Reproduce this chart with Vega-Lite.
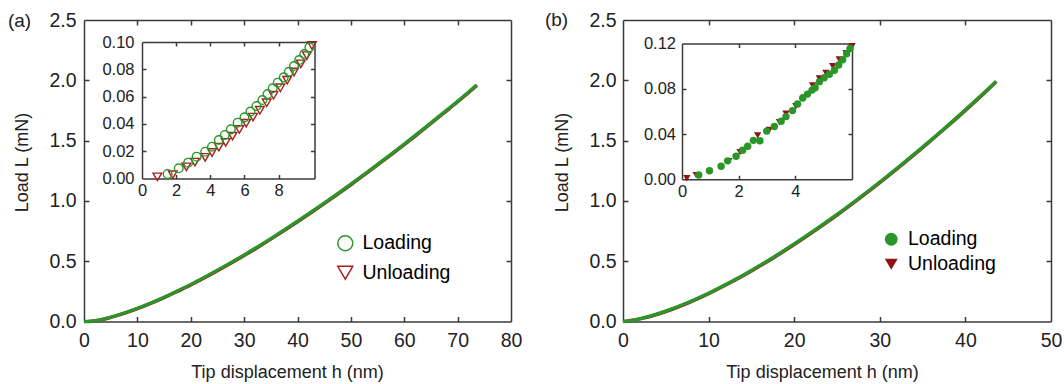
{
  "$schema": "https://vega.github.io/schema/vega-lite/v6.json",
  "width": 1064,
  "height": 384,
  "autosize": {"type": "none"},
  "padding": 0,
  "background": "white",
  "datasets": {
    "mainA": [
      {"h": 0, "L": 0, "phase": "Loading"}, {"h": 1, "L": 0, "phase": "Loading"}, {"h": 2.5, "L": 0.009, "phase": "Loading"}, {"h": 5, "L": 0.036, "phase": "Loading"}, {"h": 7.5, "L": 0.070, "phase": "Loading"}, {"h": 10, "L": 0.110, "phase": "Loading"}, {"h": 12.5, "L": 0.154, "phase": "Loading"}, {"h": 15, "L": 0.202, "phase": "Loading"}, {"h": 17.5, "L": 0.254, "phase": "Loading"}, {"h": 20, "L": 0.308, "phase": "Loading"}, {"h": 22.5, "L": 0.366, "phase": "Loading"}, {"h": 25, "L": 0.426, "phase": "Loading"}, {"h": 27.5, "L": 0.488, "phase": "Loading"}, {"h": 30, "L": 0.552, "phase": "Loading"}, {"h": 32.5, "L": 0.619, "phase": "Loading"}, {"h": 35, "L": 0.688, "phase": "Loading"}, {"h": 37.5, "L": 0.759, "phase": "Loading"}, {"h": 40, "L": 0.832, "phase": "Loading"}, {"h": 42.5, "L": 0.906, "phase": "Loading"}, {"h": 45, "L": 0.982, "phase": "Loading"}, {"h": 47.5, "L": 1.060, "phase": "Loading"}, {"h": 50, "L": 1.139, "phase": "Loading"}, {"h": 52.5, "L": 1.221, "phase": "Loading"}, {"h": 55, "L": 1.303, "phase": "Loading"}, {"h": 57.5, "L": 1.387, "phase": "Loading"}, {"h": 60, "L": 1.472, "phase": "Loading"}, {"h": 62.5, "L": 1.559, "phase": "Loading"}, {"h": 65, "L": 1.647, "phase": "Loading"}, {"h": 67.5, "L": 1.737, "phase": "Loading"}, {"h": 70, "L": 1.827, "phase": "Loading"}, {"h": 72.5, "L": 1.919, "phase": "Loading"}, {"h": 73.6, "L": 1.96, "phase": "Loading"},
      {"h": 0.9, "L": 0, "phase": "Unloading"}, {"h": 2.5, "L": 0.008, "phase": "Unloading"}, {"h": 5, "L": 0.034, "phase": "Unloading"}, {"h": 7.5, "L": 0.067, "phase": "Unloading"}, {"h": 10, "L": 0.106, "phase": "Unloading"}, {"h": 12.5, "L": 0.150, "phase": "Unloading"}, {"h": 15, "L": 0.198, "phase": "Unloading"}, {"h": 17.5, "L": 0.250, "phase": "Unloading"}, {"h": 20, "L": 0.303, "phase": "Unloading"}, {"h": 22.5, "L": 0.361, "phase": "Unloading"}, {"h": 25, "L": 0.421, "phase": "Unloading"}, {"h": 27.5, "L": 0.483, "phase": "Unloading"}, {"h": 30, "L": 0.547, "phase": "Unloading"}, {"h": 32.5, "L": 0.614, "phase": "Unloading"}, {"h": 35, "L": 0.683, "phase": "Unloading"}, {"h": 37.5, "L": 0.754, "phase": "Unloading"}, {"h": 40, "L": 0.827, "phase": "Unloading"}, {"h": 42.5, "L": 0.901, "phase": "Unloading"}, {"h": 45, "L": 0.977, "phase": "Unloading"}, {"h": 47.5, "L": 1.055, "phase": "Unloading"}, {"h": 50, "L": 1.134, "phase": "Unloading"}, {"h": 52.5, "L": 1.216, "phase": "Unloading"}, {"h": 55, "L": 1.298, "phase": "Unloading"}, {"h": 57.5, "L": 1.382, "phase": "Unloading"}, {"h": 60, "L": 1.467, "phase": "Unloading"}, {"h": 62.5, "L": 1.554, "phase": "Unloading"}, {"h": 65, "L": 1.642, "phase": "Unloading"}, {"h": 67.5, "L": 1.732, "phase": "Unloading"}, {"h": 70, "L": 1.822, "phase": "Unloading"}, {"h": 72.5, "L": 1.915, "phase": "Unloading"}, {"h": 73.6, "L": 1.96, "phase": "Unloading"}
    ],
    "insetA": [
      {"h": 1.5, "L": 0.0033, "phase": "Loading"}, {"h": 2.15, "L": 0.0075, "phase": "Loading"}, {"h": 2.7, "L": 0.0116, "phase": "Loading"}, {"h": 3.2, "L": 0.016, "phase": "Loading"}, {"h": 3.7, "L": 0.0196, "phase": "Loading"}, {"h": 4.1, "L": 0.0233, "phase": "Loading"}, {"h": 4.5, "L": 0.0282, "phase": "Loading"}, {"h": 4.85, "L": 0.0319, "phase": "Loading"}, {"h": 5.2, "L": 0.036, "phase": "Loading"}, {"h": 5.6, "L": 0.0409, "phase": "Loading"}, {"h": 6.0, "L": 0.0448, "phase": "Loading"}, {"h": 6.35, "L": 0.049, "phase": "Loading"}, {"h": 6.7, "L": 0.0531, "phase": "Loading"}, {"h": 7.05, "L": 0.0575, "phase": "Loading"}, {"h": 7.35, "L": 0.0619, "phase": "Loading"}, {"h": 7.65, "L": 0.0661, "phase": "Loading"}, {"h": 7.95, "L": 0.0702, "phase": "Loading"}, {"h": 8.3, "L": 0.0741, "phase": "Loading"}, {"h": 8.6, "L": 0.0782, "phase": "Loading"}, {"h": 8.9, "L": 0.0824, "phase": "Loading"}, {"h": 9.2, "L": 0.0868, "phase": "Loading"}, {"h": 9.5, "L": 0.0912, "phase": "Loading"}, {"h": 9.8, "L": 0.0961, "phase": "Loading"},
      {"h": 0.9, "L": 0.0012, "phase": "Unloading"}, {"h": 1.8, "L": 0.0028, "phase": "Unloading"}, {"h": 2.6, "L": 0.0085, "phase": "Unloading"}, {"h": 3.1, "L": 0.012, "phase": "Unloading"}, {"h": 3.7, "L": 0.0155, "phase": "Unloading"}, {"h": 4.1, "L": 0.019, "phase": "Unloading"}, {"h": 4.5, "L": 0.023, "phase": "Unloading"}, {"h": 4.9, "L": 0.0265, "phase": "Unloading"}, {"h": 5.3, "L": 0.031, "phase": "Unloading"}, {"h": 5.7, "L": 0.036, "phase": "Unloading"}, {"h": 6.1, "L": 0.0405, "phase": "Unloading"}, {"h": 6.5, "L": 0.045, "phase": "Unloading"}, {"h": 6.9, "L": 0.05, "phase": "Unloading"}, {"h": 7.3, "L": 0.0555, "phase": "Unloading"}, {"h": 7.7, "L": 0.061, "phase": "Unloading"}, {"h": 8.1, "L": 0.0665, "phase": "Unloading"}, {"h": 8.5, "L": 0.072, "phase": "Unloading"}, {"h": 8.9, "L": 0.078, "phase": "Unloading"}, {"h": 9.3, "L": 0.084, "phase": "Unloading"}, {"h": 9.65, "L": 0.09, "phase": "Unloading"}, {"h": 9.95, "L": 0.0975, "phase": "Unloading"}
    ],
    "mainB": [
      {"h": 0, "L": 0, "phase": "Loading"}, {"h": 1, "L": 0.008, "phase": "Loading"}, {"h": 2.5, "L": 0.032, "phase": "Loading"}, {"h": 5, "L": 0.086, "phase": "Loading"}, {"h": 7.5, "L": 0.155, "phase": "Loading"}, {"h": 10, "L": 0.235, "phase": "Loading"}, {"h": 12.5, "L": 0.325, "phase": "Loading"}, {"h": 15, "L": 0.424, "phase": "Loading"}, {"h": 17.5, "L": 0.530, "phase": "Loading"}, {"h": 20, "L": 0.643, "phase": "Loading"}, {"h": 22.5, "L": 0.763, "phase": "Loading"}, {"h": 25, "L": 0.888, "phase": "Loading"}, {"h": 27.5, "L": 1.020, "phase": "Loading"}, {"h": 30, "L": 1.157, "phase": "Loading"}, {"h": 32.5, "L": 1.300, "phase": "Loading"}, {"h": 35, "L": 1.447, "phase": "Loading"}, {"h": 37.5, "L": 1.599, "phase": "Loading"}, {"h": 40, "L": 1.756, "phase": "Loading"}, {"h": 42.5, "L": 1.918, "phase": "Loading"}, {"h": 43.6, "L": 1.99, "phase": "Loading"},
      {"h": 0.2, "L": 0, "phase": "Unloading"}, {"h": 2.5, "L": 0.030, "phase": "Unloading"}, {"h": 5, "L": 0.083, "phase": "Unloading"}, {"h": 7.5, "L": 0.151, "phase": "Unloading"}, {"h": 10, "L": 0.231, "phase": "Unloading"}, {"h": 12.5, "L": 0.321, "phase": "Unloading"}, {"h": 15, "L": 0.419, "phase": "Unloading"}, {"h": 17.5, "L": 0.525, "phase": "Unloading"}, {"h": 20, "L": 0.638, "phase": "Unloading"}, {"h": 22.5, "L": 0.758, "phase": "Unloading"}, {"h": 25, "L": 0.883, "phase": "Unloading"}, {"h": 27.5, "L": 1.015, "phase": "Unloading"}, {"h": 30, "L": 1.152, "phase": "Unloading"}, {"h": 32.5, "L": 1.295, "phase": "Unloading"}, {"h": 35, "L": 1.442, "phase": "Unloading"}, {"h": 37.5, "L": 1.594, "phase": "Unloading"}, {"h": 40, "L": 1.751, "phase": "Unloading"}, {"h": 42.5, "L": 1.913, "phase": "Unloading"}, {"h": 43.6, "L": 1.99, "phase": "Unloading"}
    ],
    "insetB": [
      {"h": 0.59, "L": 0.0038, "phase": "Loading"}, {"h": 0.97, "L": 0.0075, "phase": "Loading"}, {"h": 1.38, "L": 0.0116, "phase": "Loading"}, {"h": 1.61, "L": 0.0163, "phase": "Loading"}, {"h": 1.91, "L": 0.0204, "phase": "Loading"}, {"h": 2.14, "L": 0.0257, "phase": "Loading"}, {"h": 2.32, "L": 0.0292, "phase": "Loading"}, {"h": 2.52, "L": 0.0344, "phase": "Loading"}, {"h": 2.75, "L": 0.034, "phase": "Loading"}, {"h": 2.99, "L": 0.0426, "phase": "Loading"}, {"h": 3.26, "L": 0.0467, "phase": "Loading"}, {"h": 3.5, "L": 0.0513, "phase": "Loading"}, {"h": 3.67, "L": 0.0554, "phase": "Loading"}, {"h": 3.9, "L": 0.0607, "phase": "Loading"}, {"h": 4.08, "L": 0.0665, "phase": "Loading"}, {"h": 4.26, "L": 0.0718, "phase": "Loading"}, {"h": 4.43, "L": 0.0753, "phase": "Loading"}, {"h": 4.59, "L": 0.0788, "phase": "Loading"}, {"h": 4.7, "L": 0.081, "phase": "Loading"}, {"h": 4.85, "L": 0.0863, "phase": "Loading"}, {"h": 5.02, "L": 0.0898, "phase": "Loading"}, {"h": 5.2, "L": 0.0928, "phase": "Loading"}, {"h": 5.38, "L": 0.0963, "phase": "Loading"}, {"h": 5.53, "L": 0.101, "phase": "Loading"}, {"h": 5.67, "L": 0.1056, "phase": "Loading"}, {"h": 5.81, "L": 0.1109, "phase": "Loading"}, {"h": 5.93, "L": 0.1156, "phase": "Loading"},
      {"h": 0.17, "L": 0.001, "phase": "Unloading"}, {"h": 0.5, "L": 0.0037, "phase": "Unloading"}, {"h": 1.65, "L": 0.016, "phase": "Unloading"}, {"h": 2.05, "L": 0.024, "phase": "Unloading"}, {"h": 2.67, "L": 0.0388, "phase": "Unloading"}, {"h": 3.08, "L": 0.0435, "phase": "Unloading"}, {"h": 3.44, "L": 0.0505, "phase": "Unloading"}, {"h": 3.67, "L": 0.058, "phase": "Unloading"}, {"h": 4.02, "L": 0.0645, "phase": "Unloading"}, {"h": 4.32, "L": 0.072, "phase": "Unloading"}, {"h": 4.61, "L": 0.083, "phase": "Unloading"}, {"h": 4.85, "L": 0.089, "phase": "Unloading"}, {"h": 5.08, "L": 0.094, "phase": "Unloading"}, {"h": 5.32, "L": 0.1, "phase": "Unloading"}, {"h": 5.55, "L": 0.106, "phase": "Unloading"}, {"h": 5.79, "L": 0.1115, "phase": "Unloading"}, {"h": 6.0, "L": 0.1175, "phase": "Unloading"}
    ]
  },
  "layer": [
    {
      "layer": [
        {
          "data": {"name": "mainA"},
          "transform": [{"filter": "datum.phase === 'Unloading'"}],
          "mark": {"type": "line", "color": "#a3201f", "strokeWidth": 3.5, "interpolate": "monotone"},
          "encoding": {
            "x": {"field": "h", "type": "quantitative", "scale": {"domain": [0, 80], "nice": false, "zero": false, "range": [84, 511]}, "axis": {"orient": "bottom", "offset": -62.5, "values": [0, 10, 20, 30, 40, 50, 60, 70, 80], "labelPadding": 10, "title": "Tip displacement h (nm)", "titleX": 287, "titleY": 50.5, "titleBaseline": "middle"}},
            "y": {"field": "L", "type": "quantitative", "scale": {"domain": [0, 2.5], "nice": false, "zero": false, "range": [321.5, 20]}, "axis": {"orient": "left", "offset": -84, "values": [0, 0.5, 1, 1.5, 2, 2.5], "format": ".1f", "labelPadding": 8, "title": "Load L (mN)", "titleX": -62, "titleY": 162, "titleBaseline": "middle"}}
          }
        },
        {
          "data": {"name": "mainA"},
          "transform": [{"filter": "datum.phase === 'Loading'"}],
          "mark": {"type": "line", "color": "#2a962a", "strokeWidth": 3.3, "interpolate": "monotone"},
          "encoding": {
            "x": {"field": "h", "type": "quantitative", "scale": {"domain": [0, 80], "nice": false, "zero": false, "range": [84, 511]}, "axis": {"orient": "top", "offset": -20, "values": [0, 10, 20, 30, 40, 50, 60, 70, 80], "labels": false, "title": "(a)", "titleX": 19, "titleY": 0, "titleAngle": 0, "titleAlign": "center", "titleBaseline": "middle", "titleFontSize": 19}},
            "y": {"field": "L", "type": "quantitative", "scale": {"domain": [0, 2.5], "nice": false, "zero": false, "range": [321.5, 20]}, "axis": {"orient": "right", "offset": -553, "values": [0, 0.5, 1, 1.5, 2, 2.5], "labels": false, "title": null}}
          }
        },
        {
          "mark": {"type": "text", "text": "SiO₂", "fontSize": 18, "color": "#222"},
          "encoding": {
            "x": {"datum": 68.9, "type": "quantitative", "scale": {"domain": [0, 80], "nice": false, "zero": false, "range": [84, 511]}, "axis": {"orient": "bottom", "offset": -67.5, "values": [10, 20, 30, 40, 50, 60, 70], "domain": false, "ticks": true, "tickSize": 5, "labels": false, "title": null}},
            "y": {"datum": 2.326, "type": "quantitative", "scale": {"domain": [0, 2.5], "nice": false, "zero": false, "range": [321.5, 20]}, "axis": {"orient": "left", "offset": -89, "values": [0.5, 1, 1.5, 2], "domain": false, "ticks": true, "tickSize": 5, "labels": false, "title": null}}
          }
        },
        {
          "data": {"name": "mainA"},
          "transform": [{"filter": "datum.phase === 'Loading'"}],
          "mark": {"type": "line", "strokeOpacity": 0},
          "encoding": {
            "x": {"field": "h", "type": "quantitative", "scale": {"domain": [0, 80], "nice": false, "zero": false, "range": [84, 511]}, "axis": {"orient": "top", "offset": -25, "values": [10, 20, 30, 40, 50, 60, 70], "domain": false, "ticks": true, "tickSize": 5, "labels": false, "title": null}},
            "y": {"field": "L", "type": "quantitative", "scale": {"domain": [0, 2.5], "nice": false, "zero": false, "range": [321.5, 20]}, "axis": {"orient": "right", "offset": -558, "values": [0.5, 1, 1.5, 2], "domain": false, "ticks": true, "tickSize": 5, "labels": false, "title": null}}
          }
        }
      ],
      "resolve": {"axis": {"x": "independent", "y": "independent"}}
    },
    {
      "layer": [
        {
          "data": {"name": "insetA"},
          "transform": [{"filter": "datum.phase === 'Unloading'"}],
          "mark": {"type": "point", "filled": false, "size": 75, "strokeWidth": 1.4, "opacity": 1},
          "encoding": {
            "x": {"field": "h", "type": "quantitative", "scale": {"domain": [0, 10.1], "nice": false, "zero": false, "range": [142, 314.5]}, "axis": {"orient": "bottom", "offset": -205.5, "values": [0, 2, 4, 6, 8], "format": "d", "labelFontSize": 16.5, "labelPadding": 4, "title": null}},
            "y": {"field": "L", "type": "quantitative", "scale": {"domain": [0, 0.1], "nice": false, "zero": false, "range": [178.5, 42]}, "axis": {"orient": "left", "offset": -142, "values": [0, 0.02, 0.04, 0.06, 0.08, 0.1], "format": ".2f", "labelFontSize": 16.5, "labelPadding": 8, "title": null}},
            "color": {"field": "phase", "type": "nominal", "scale": {"domain": ["Loading", "Unloading"], "range": ["#2a962a", "#a3201f"]}, "legend": {"orient": "none", "legendX": 335.5, "legendY": 233.5, "title": null, "symbolSize": 225, "symbolStrokeWidth": 1.5, "labelFontSize": 19.5, "labelOffset": 7.5, "rowPadding": 7.5, "padding": 0, "encode": {"labels": {"fill": {"condition": {"test": "datum.value === 'Loading'", "value": "#2a962a"}, "value": "#a3201f"}}}}},
            "shape": {"field": "phase", "type": "nominal", "scale": {"domain": ["Loading", "Unloading"], "range": ["circle", "triangle-down"]}, "legend": {"orient": "none", "legendX": 335.5, "legendY": 233.5, "title": null, "symbolSize": 225, "symbolStrokeWidth": 1.5, "labelFontSize": 19.5, "labelOffset": 7.5, "rowPadding": 7.5, "padding": 0, "encode": {"labels": {"fill": {"condition": {"test": "datum.value === 'Loading'", "value": "#2a962a"}, "value": "#a3201f"}}}}}
          }
        },
        {
          "data": {"name": "insetA"},
          "transform": [{"filter": "datum.phase === 'Loading'"}],
          "mark": {"type": "point", "filled": false, "size": 75, "strokeWidth": 1.4, "opacity": 1},
          "encoding": {
            "x": {"field": "h", "type": "quantitative", "scale": {"domain": [0, 10.1], "nice": false, "zero": false, "range": [142, 314.5]}, "axis": {"orient": "top", "offset": -42, "values": [0, 2, 4, 6, 8], "labels": false, "title": null}},
            "y": {"field": "L", "type": "quantitative", "scale": {"domain": [0, 0.1], "nice": false, "zero": false, "range": [178.5, 42]}, "axis": {"orient": "right", "offset": -749.5, "values": [0, 0.02, 0.04, 0.06, 0.08, 0.1], "labels": false, "title": null}},
            "color": {"field": "phase", "type": "nominal", "scale": {"domain": ["Loading", "Unloading"], "range": ["#2a962a", "#a3201f"]}, "legend": {"orient": "none", "legendX": 335.5, "legendY": 233.5, "title": null, "symbolSize": 225, "symbolStrokeWidth": 1.5, "labelFontSize": 19.5, "labelOffset": 7.5, "rowPadding": 7.5, "padding": 0, "encode": {"labels": {"fill": {"condition": {"test": "datum.value === 'Loading'", "value": "#2a962a"}, "value": "#a3201f"}}}}},
            "shape": {"field": "phase", "type": "nominal", "scale": {"domain": ["Loading", "Unloading"], "range": ["circle", "triangle-down"]}, "legend": {"orient": "none", "legendX": 335.5, "legendY": 233.5, "title": null, "symbolSize": 225, "symbolStrokeWidth": 1.5, "labelFontSize": 19.5, "labelOffset": 7.5, "rowPadding": 7.5, "padding": 0, "encode": {"labels": {"fill": {"condition": {"test": "datum.value === 'Loading'", "value": "#2a962a"}, "value": "#a3201f"}}}}}
          }
        },
        {
          "data": {"name": "insetA"},
          "mark": {"type": "point", "opacity": 0},
          "encoding": {
            "x": {"field": "h", "type": "quantitative", "scale": {"domain": [0, 10.1], "nice": false, "zero": false, "range": [142, 314.5]}, "axis": {"orient": "bottom", "offset": -209.5, "values": [2, 4, 6, 8], "domain": false, "ticks": true, "tickSize": 4, "labels": false, "title": null}},
            "y": {"field": "L", "type": "quantitative", "scale": {"domain": [0, 0.1], "nice": false, "zero": false, "range": [178.5, 42]}, "axis": {"orient": "left", "offset": -146, "values": [0.02, 0.04, 0.06, 0.08], "domain": false, "ticks": true, "tickSize": 4, "labels": false, "title": null}}
          }
        },
        {
          "data": {"name": "insetA"},
          "mark": {"type": "point", "opacity": 0},
          "encoding": {
            "x": {"field": "h", "type": "quantitative", "scale": {"domain": [0, 10.1], "nice": false, "zero": false, "range": [142, 314.5]}, "axis": {"orient": "top", "offset": -46, "values": [2, 4, 6, 8], "domain": false, "ticks": true, "tickSize": 4, "labels": false, "title": null}},
            "y": {"field": "L", "type": "quantitative", "scale": {"domain": [0, 0.1], "nice": false, "zero": false, "range": [178.5, 42]}, "axis": {"orient": "right", "offset": -753.5, "values": [0.02, 0.04, 0.06, 0.08], "domain": false, "ticks": true, "tickSize": 4, "labels": false, "title": null}}
          }
        }
      ],
      "resolve": {"axis": {"x": "independent", "y": "independent"}}
    },
    {
      "layer": [
        {
          "data": {"name": "mainB"},
          "transform": [{"filter": "datum.phase === 'Unloading'"}],
          "mark": {"type": "line", "color": "#a3201f", "strokeWidth": 3.5, "interpolate": "monotone"},
          "encoding": {
            "x": {"field": "h", "type": "quantitative", "scale": {"domain": [0, 50], "nice": false, "zero": false, "range": [623, 1051]}, "axis": {"orient": "bottom", "offset": -62.5, "values": [0, 10, 20, 30, 40, 50], "labelPadding": 10, "title": "Tip displacement h (nm)", "titleX": 822, "titleY": 50.5, "titleBaseline": "middle"}},
            "y": {"field": "L", "type": "quantitative", "scale": {"domain": [0, 2.5], "nice": false, "zero": false, "range": [321.5, 20]}, "axis": {"orient": "left", "offset": -623, "values": [0, 0.5, 1, 1.5, 2, 2.5], "format": ".1f", "labelPadding": 7, "title": "Load L (mN)", "titleX": -61, "titleY": 162, "titleBaseline": "middle"}}
          }
        },
        {
          "data": {"name": "mainB"},
          "transform": [{"filter": "datum.phase === 'Loading'"}],
          "mark": {"type": "line", "color": "#2a962a", "strokeWidth": 3.3, "interpolate": "monotone"},
          "encoding": {
            "x": {"field": "h", "type": "quantitative", "scale": {"domain": [0, 50], "nice": false, "zero": false, "range": [623, 1051]}, "axis": {"orient": "top", "offset": -20, "values": [0, 10, 20, 30, 40, 50], "labels": false, "title": "(b)", "titleX": 556, "titleY": -1, "titleAngle": 0, "titleAlign": "center", "titleBaseline": "middle", "titleFontSize": 19}},
            "y": {"field": "L", "type": "quantitative", "scale": {"domain": [0, 2.5], "nice": false, "zero": false, "range": [321.5, 20]}, "axis": {"orient": "right", "offset": -13, "values": [0, 0.5, 1, 1.5, 2, 2.5], "labels": false, "title": null}}
          }
        },
        {
          "mark": {"type": "text", "text": "Si", "fontSize": 18, "color": "#222"},
          "encoding": {
            "x": {"datum": 41.2, "type": "quantitative", "scale": {"domain": [0, 50], "nice": false, "zero": false, "range": [623, 1051]}, "axis": {"orient": "bottom", "offset": -67.5, "values": [10, 20, 30, 40], "domain": false, "ticks": true, "tickSize": 5, "labels": false, "title": null}},
            "y": {"datum": 2.326, "type": "quantitative", "scale": {"domain": [0, 2.5], "nice": false, "zero": false, "range": [321.5, 20]}, "axis": {"orient": "left", "offset": -628, "values": [0.5, 1, 1.5, 2], "domain": false, "ticks": true, "tickSize": 5, "labels": false, "title": null}}
          }
        },
        {
          "data": {"name": "mainB"},
          "transform": [{"filter": "datum.phase === 'Loading'"}],
          "mark": {"type": "line", "strokeOpacity": 0},
          "encoding": {
            "x": {"field": "h", "type": "quantitative", "scale": {"domain": [0, 50], "nice": false, "zero": false, "range": [623, 1051]}, "axis": {"orient": "top", "offset": -25, "values": [10, 20, 30, 40], "domain": false, "ticks": true, "tickSize": 5, "labels": false, "title": null}},
            "y": {"field": "L", "type": "quantitative", "scale": {"domain": [0, 2.5], "nice": false, "zero": false, "range": [321.5, 20]}, "axis": {"orient": "right", "offset": -18, "values": [0.5, 1, 1.5, 2], "domain": false, "ticks": true, "tickSize": 5, "labels": false, "title": null}}
          }
        }
      ],
      "resolve": {"axis": {"x": "independent", "y": "independent"}}
    },
    {
      "layer": [
        {
          "data": {"name": "insetB"},
          "transform": [{"filter": "datum.phase === 'Unloading'"}],
          "mark": {"type": "point", "filled": true, "size": 55, "opacity": 1},
          "encoding": {
            "x": {"field": "h", "type": "quantitative", "scale": {"domain": [0, 6], "nice": false, "zero": false, "range": [682, 852]}, "axis": {"orient": "bottom", "offset": -204.7, "values": [0, 2, 4], "format": "d", "labelFontSize": 16.5, "labelPadding": 4, "title": null}},
            "y": {"field": "L", "type": "quantitative", "scale": {"domain": [0, 0.12], "nice": false, "zero": false, "range": [179.3, 43.5]}, "axis": {"orient": "left", "offset": -682, "values": [0, 0.04, 0.08, 0.12], "format": ".2f", "labelFontSize": 16.5, "labelPadding": 6.5, "title": null}},
            "color": {"field": "phase", "type": "nominal", "scale": {"domain": ["Loading", "Unloading"], "range": ["#2a962a", "#8c1414"]}, "legend": {"orient": "none", "legendX": 881.5, "legendY": 229.5, "title": null, "symbolSize": 165, "labelFontSize": 19.5, "labelOffset": 7, "rowPadding": 4, "padding": 0, "encode": {"labels": {"fill": {"condition": {"test": "datum.value === 'Loading'", "value": "#2a962a"}, "value": "#a3201f"}}}}},
            "shape": {"field": "phase", "type": "nominal", "scale": {"domain": ["Loading", "Unloading"], "range": ["circle", "triangle-down"]}, "legend": {"orient": "none", "legendX": 881.5, "legendY": 229.5, "title": null, "symbolSize": 165, "labelFontSize": 19.5, "labelOffset": 7, "rowPadding": 4, "padding": 0, "encode": {"labels": {"fill": {"condition": {"test": "datum.value === 'Loading'", "value": "#2a962a"}, "value": "#a3201f"}}}}}
          }
        },
        {
          "data": {"name": "insetB"},
          "transform": [{"filter": "datum.phase === 'Loading'"}],
          "mark": {"type": "point", "filled": true, "size": 55, "opacity": 1},
          "encoding": {
            "x": {"field": "h", "type": "quantitative", "scale": {"domain": [0, 6], "nice": false, "zero": false, "range": [682, 852]}, "axis": {"orient": "top", "offset": -43.5, "values": [0, 2, 4], "labels": false, "title": null}},
            "y": {"field": "L", "type": "quantitative", "scale": {"domain": [0, 0.12], "nice": false, "zero": false, "range": [179.3, 43.5]}, "axis": {"orient": "right", "offset": -212, "values": [0, 0.04, 0.08, 0.12], "labels": false, "title": null}},
            "color": {"field": "phase", "type": "nominal", "scale": {"domain": ["Loading", "Unloading"], "range": ["#2a962a", "#8c1414"]}, "legend": {"orient": "none", "legendX": 881.5, "legendY": 229.5, "title": null, "symbolSize": 165, "labelFontSize": 19.5, "labelOffset": 7, "rowPadding": 4, "padding": 0, "encode": {"labels": {"fill": {"condition": {"test": "datum.value === 'Loading'", "value": "#2a962a"}, "value": "#a3201f"}}}}},
            "shape": {"field": "phase", "type": "nominal", "scale": {"domain": ["Loading", "Unloading"], "range": ["circle", "triangle-down"]}, "legend": {"orient": "none", "legendX": 881.5, "legendY": 229.5, "title": null, "symbolSize": 165, "labelFontSize": 19.5, "labelOffset": 7, "rowPadding": 4, "padding": 0, "encode": {"labels": {"fill": {"condition": {"test": "datum.value === 'Loading'", "value": "#2a962a"}, "value": "#a3201f"}}}}}
          }
        },
        {
          "data": {"name": "insetB"},
          "mark": {"type": "point", "opacity": 0},
          "encoding": {
            "x": {"field": "h", "type": "quantitative", "scale": {"domain": [0, 6], "nice": false, "zero": false, "range": [682, 852]}, "axis": {"orient": "bottom", "offset": -208.7, "values": [2, 4], "domain": false, "ticks": true, "tickSize": 4, "labels": false, "title": null}},
            "y": {"field": "L", "type": "quantitative", "scale": {"domain": [0, 0.12], "nice": false, "zero": false, "range": [179.3, 43.5]}, "axis": {"orient": "left", "offset": -686, "values": [0.04, 0.08], "domain": false, "ticks": true, "tickSize": 4, "labels": false, "title": null}}
          }
        },
        {
          "data": {"name": "insetB"},
          "mark": {"type": "point", "opacity": 0},
          "encoding": {
            "x": {"field": "h", "type": "quantitative", "scale": {"domain": [0, 6], "nice": false, "zero": false, "range": [682, 852]}, "axis": {"orient": "top", "offset": -47.5, "values": [2, 4], "domain": false, "ticks": true, "tickSize": 4, "labels": false, "title": null}},
            "y": {"field": "L", "type": "quantitative", "scale": {"domain": [0, 0.12], "nice": false, "zero": false, "range": [179.3, 43.5]}, "axis": {"orient": "right", "offset": -216, "values": [0.04, 0.08], "domain": false, "ticks": true, "tickSize": 4, "labels": false, "title": null}}
          }
        }
      ],
      "resolve": {"axis": {"x": "independent", "y": "independent"}}
    }
  ],
  "resolve": {
    "scale": {"x": "independent", "y": "independent", "color": "independent", "shape": "independent"},
    "axis": {"x": "independent", "y": "independent"},
    "legend": {"color": "independent", "shape": "independent"}
  },
  "config": {
    "view": {"stroke": null},
    "font": "Liberation Sans",
    "axis": {"grid": false, "domain": true, "domainColor": "#3a3a3a", "domainWidth": 1.5, "ticks": false, "tickSize": 0, "tickColor": "#3a3a3a", "tickWidth": 1.5, "labelFlush": false, "labelOverlap": false, "labelColor": "#222", "titleColor": "#222", "labelFontSize": 19.5, "titleFontSize": 18, "titleFontWeight": "normal", "labelFont": "Liberation Sans", "titleFont": "Liberation Sans"},
    "legend": {"labelFont": "Liberation Sans"}
  }
}
